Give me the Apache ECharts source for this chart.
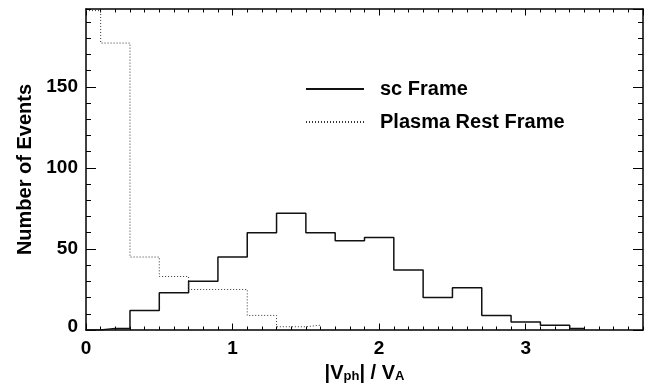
<!DOCTYPE html>
<html><head><meta charset="utf-8">
<script src="https://cdn.jsdelivr.net/npm/echarts@6/dist/echarts.min.js"></script>
<style>html,body{margin:0;padding:0;background:#fff}#c{width:649px;height:388px}</style>
</head><body><div id="c"></div>
<script>
// Histogram bin centres (|Vph|/VA) and counts, drawn IDL psym=10 style
const scCenters = [0,0.2,0.4,0.6,0.8,1.0,1.2,1.4,1.6,1.8,2.0,2.2,2.4,2.6,2.8,3.0,3.2,3.4];
const scFrame   = [0,1,12,23,30,45,60,72,60,55,57,37,20,26,9,5,3,1];
const plasmaCenters = [0,0.2,0.4,0.6,0.8,1.0,1.2,1.4,1.6];
const plasmaRest    = [197,177,45,33,25,25,9,2,3];
const seriesNames = ['sc Frame','Plasma Rest Frame'];
const xMin = 0, xMax = 3.8, xMajor = 1, xMinor = 0.1;
const yMin = 0, yMax = 198, yMajor = 50, yMinor = 10;

const FONT = '"Liberation Sans", Arial, Helvetica, sans-serif';
const lblStyle = {fontFamily: FONT, fontWeight: 'bold', fontSize: 19, color: '#000'};
const lineCol = '#000';

function xAx(pos, interval, len, labels, line) {
  const a = {type:'value', position:pos, min:xMin, max:xMax, interval:interval,
    axisLine:{show:line, onZero:false, lineStyle:{color:lineCol, width:1.5}},
    axisTick:{show:true, inside:true, length:len, lineStyle:{color:lineCol, width:1}},
    axisLabel:{show:labels, showMaxLabel:false, margin:9, ...lblStyle},
    splitLine:{show:false}};
  if (labels) {
    a.name = '{b||V}{s|ph}{b|| / V}{s|A}';
    a.nameLocation = 'middle';
    a.nameGap = 33;
    a.nameTextStyle = {fontFamily:FONT, fontWeight:'bold', color:'#000',
      rich:{ b:{fontFamily:FONT, fontWeight:'bold', fontSize:20, color:'#000', padding:[0,0,6,0]},
             s:{fontFamily:FONT, fontWeight:'bold', fontSize:13, color:'#000'} }};
  }
  return a;
}
function yAx(pos, interval, len, labels, line) {
  const a = {type:'value', position:pos, min:yMin, max:yMax, interval:interval,
    axisLine:{show:line, onZero:false, lineStyle:{color:lineCol, width:1.5}},
    axisTick:{show:true, inside:true, length:len, lineStyle:{color:lineCol, width:1}},
    axisLabel:{show:labels, showMaxLabel:false, margin:8, ...lblStyle,
      formatter: v => v === 0 ? '{z|0}' : String(v),
      rich:{ z:{...lblStyle, padding:[0,0,7,0]} }},
    splitLine:{show:false}};
  if (labels) {
    a.name = 'Number of Events';
    a.nameLocation = 'middle';
    a.nameRotate = 90;
    a.nameGap = 50;
    a.nameTextStyle = {fontFamily:FONT, fontWeight:'bold', fontSize:20, color:'#000'};
  }
  return a;
}

const chart = echarts.init(document.getElementById('c'));
chart.setOption({
  animation:false,
  backgroundColor:'#fff',
  grid:{left:86, right:6, top:9, bottom:54, containLabel:false},
  legend:{
    data:seriesNames, orient:'vertical', left:300, top:74,
    itemWidth:58, itemHeight:14, itemGap:13,
    itemStyle:{opacity:0},
    textStyle:{fontFamily:FONT, fontWeight:'bold', fontSize:20, color:'#000', padding:[0,0,0,11]}
  },
  xAxis:[
    xAx('bottom', xMajor, 6.5, true, true),
    xAx('bottom', xMinor, 3.5, false, false),
    xAx('top', xMajor, 6.5, false, true),
    xAx('top', xMinor, 3.5, false, false)
  ],
  yAxis:[
    yAx('left', yMajor, 10, true, true),
    yAx('left', yMinor, 5, false, false),
    yAx('right', yMajor, 10, false, true),
    yAx('right', yMinor, 5, false, false)
  ],
  series:[
    {name:seriesNames[0], type:'line', step:'middle', showSymbol:false, symbol:'none',
     xAxisIndex:0, yAxisIndex:0, clip:true,
     lineStyle:{color:'#111', width:1.5, type:'solid'}, itemStyle:{color:'#111'},
     data: scCenters.map((x,i)=>[x, scFrame[i]])},
    {name:seriesNames[1], type:'line', step:'middle', showSymbol:false, symbol:'none',
     xAxisIndex:0, yAxisIndex:0, clip:true,
     lineStyle:{color:'#333', width:1, type:[1,2]}, itemStyle:{color:'#333'},
     data: plasmaCenters.map((x,i)=>[x, plasmaRest[i]])}
  ]
});
</script></body></html>
